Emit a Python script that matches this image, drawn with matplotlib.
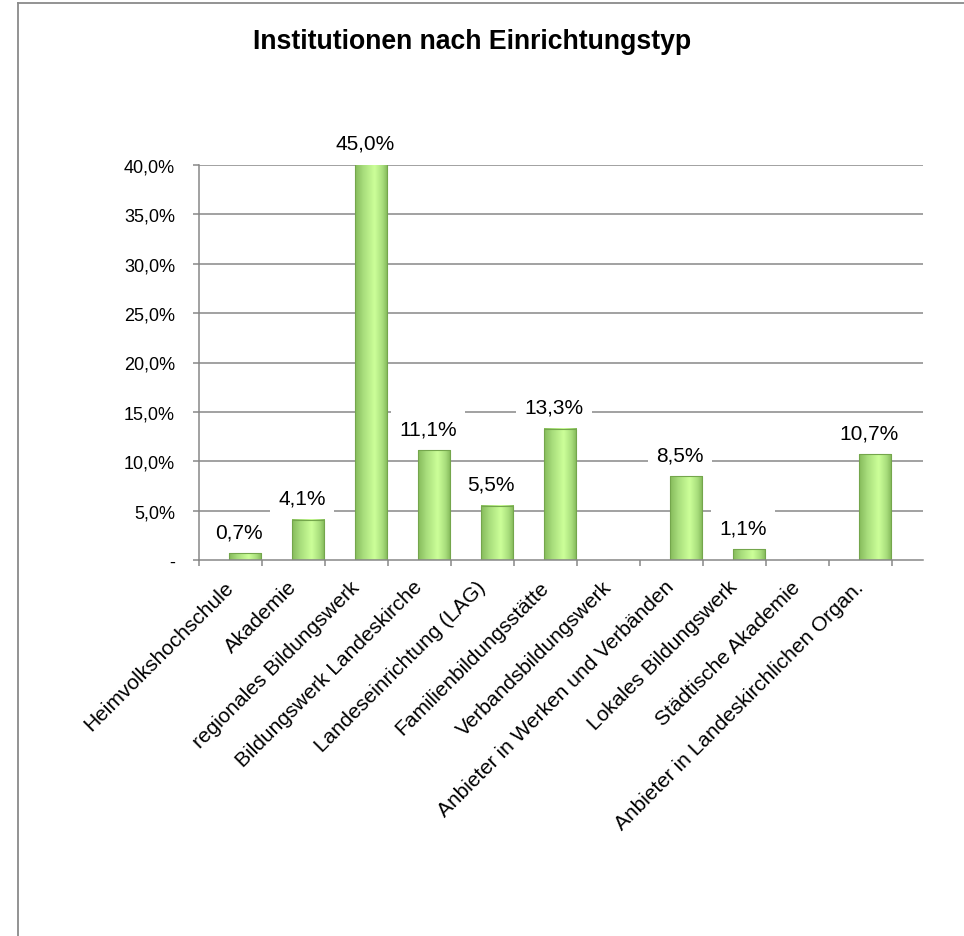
import matplotlib
matplotlib.use("Agg")
import matplotlib.pyplot as plt
import numpy as np
from matplotlib.lines import Line2D
from matplotlib.colors import LinearSegmentedColormap

plt.rcParams['font.family'] = ['Liberation Sans', 'DejaVu Sans']

categories = ["Heimvolkshochschule", "Akademie", "regionales Bildungswerk",
              "Bildungswerk Landeskirche", "Landeseinrichtung (LAG)",
              "Familienbildungsstätte", "Verbandsbildungswerk",
              "Anbieter in Werken und Verbänden", "Lokales Bildungswerk",
              "Städtische Akademie", "Anbieter in Landeskirchlichen Organ."]
values = [0.007, 0.041, 0.450, 0.111, 0.055, 0.133, 0.0, 0.085, 0.011, 0.0, 0.107]
labels = ["0,7%", "4,1%", "45,0%", "11,1%", "5,5%", "13,3%", None, "8,5%", "1,1%", None, "10,7%"]
yticks = [0.0, 0.05, 0.10, 0.15, 0.20, 0.25, 0.30, 0.35, 0.40]
ytick_labels = ["-", "5,0%", "10,0%", "15,0%", "20,0%", "25,0%", "30,0%", "35,0%", "40,0%"]
title = "Institutionen nach Einrichtungstyp"

W, H = 964, 937
fig = plt.figure(figsize=(W / 100, H / 100), dpi=100)
ax_left, ax_right, ax_bottom, ax_top = 199, 923, 561, 166
ax = fig.add_axes([ax_left / W, 1 - ax_bottom / H, (ax_right - ax_left) / W, (ax_bottom - ax_top) / H])

ymax = 0.40
n = len(categories)
x = np.arange(n)
cat_px = 63.0
grid_col = "#878787"

for yv in yticks[1:]:
    ax.axhline(yv, color=grid_col, lw=1.1, zorder=1)

bar_w = 0.52
bar_shift = 0.49 - bar_w / 2
bars = ax.bar(x + bar_shift, values, width=bar_w, color="none", edgecolor="#74a64c",
              lw=0.8, zorder=3)

cmap = LinearSegmentedColormap.from_list(
    "g", [(0, "#86bb5c"), (0.25, "#a8dd7c"), (0.6, "#ccff99"), (0.85, "#a8dd7c"), (1, "#82b758")])
grad = np.linspace(0, 1, 64).reshape(1, -1)
for b in bars:
    h = b.get_height()
    if h <= 0:
        continue
    ax.imshow(grad, cmap=cmap, aspect="auto", zorder=2,
              extent=[b.get_x(), b.get_x() + b.get_width(), 0, min(h, ymax)],
              interpolation="bicubic")

for xi, v, lab in zip(x + bar_shift, values, labels):
    if lab is None:
        continue
    ytop = min(v, ymax)
    ax.annotate(lab, (xi, ytop), xytext=(-4.3, 15.5), textcoords="offset points",
                ha="center", va="center", fontsize=15, color="black", zorder=5,
                annotation_clip=False,
                bbox=dict(boxstyle="square,pad=0.4", fc="white", ec="none"))

ax.set_xlim(-0.5, -0.5 + (ax_right - ax_left) / cat_px)
ax.set_ylim(0, ymax)

ax.set_yticks(yticks)
ax.set_yticklabels(ytick_labels, fontsize=13)
ax.tick_params(axis="y", length=4.3, width=1.1, color=grid_col, pad=13)

ax.set_xticks(x)
ax.set_xticklabels(categories, fontsize=15, rotation=45, ha="right", va="center",
                   rotation_mode="anchor")
ax.set_xticks(np.arange(-0.5, n), minor=True)
ax.tick_params(axis="x", which="major", length=0, pad=17)
ax.tick_params(axis="x", which="minor", length=4.3, width=1.1, color=grid_col)

for s in ["top", "right"]:
    ax.spines[s].set_visible(False)
for s in ["left", "bottom"]:
    ax.spines[s].set_color(grid_col)
    ax.spines[s].set_linewidth(1.1)
ax.spines["bottom"].set_zorder(4)

fig.text(472 / W, 1 - 49 / H, title, ha="center", va="baseline", fontsize=19.2,
         fontweight="bold")

# outer border (left and top visible)
fig.add_artist(Line2D([17.5 / W, 17.5 / W], [0, 1 - 3.7 / H], color="#8a8a8a", lw=1.3,
                      transform=fig.transFigure))
fig.add_artist(Line2D([17.5 / W, 1], [1 - 3.7 / H, 1 - 3.7 / H], color="#8a8a8a", lw=1.3,
                      transform=fig.transFigure))

fig.savefig("out.png", dpi=100)
